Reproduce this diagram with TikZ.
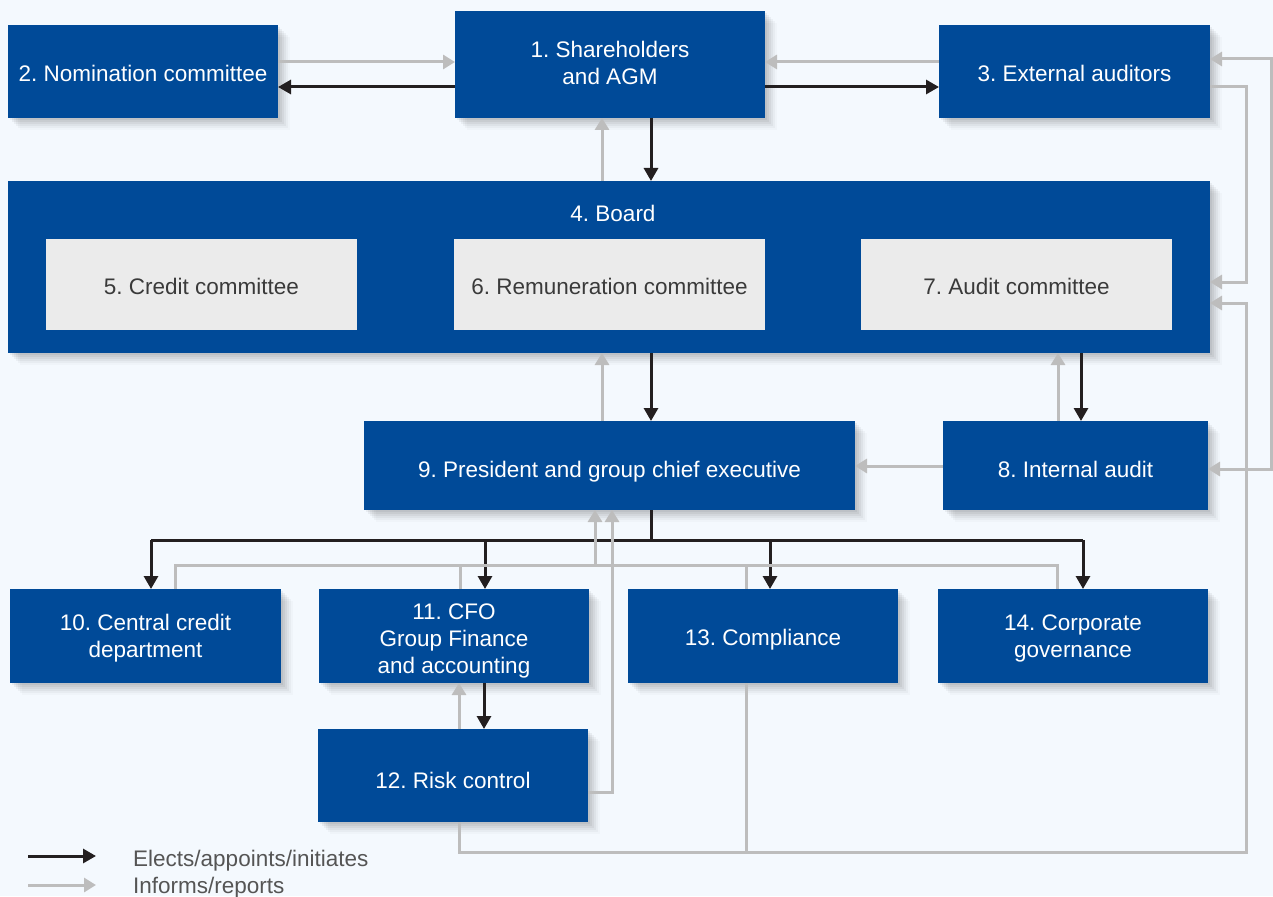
\documentclass[tikz,border=0pt]{standalone}
\usepackage{fontspec}
\setmainfont{Liberation Sans}
\usetikzlibrary{arrows.meta}
\definecolor{bg}{HTML}{F4F9FE}
\definecolor{boxblue}{HTML}{004A98}
\definecolor{boxgray}{HTML}{EBEBEB}
\definecolor{linegray}{HTML}{BDBDBD}
\definecolor{lineblack}{HTML}{231F20}
\definecolor{legtext}{HTML}{555555}
\definecolor{darktext}{HTML}{3A3A3A}
\tikzset{
  shadowed/.style={
    preaction={fill=black,opacity=0.05,transform canvas={shift={(2pt,-2pt)}}},
    preaction={fill=black,opacity=0.05,transform canvas={shift={(4pt,-4pt)}}},
    preaction={fill=black,opacity=0.045,transform canvas={shift={(6pt,-6pt)}}},
    preaction={fill=black,opacity=0.04,transform canvas={shift={(8pt,-8pt)}}},
    preaction={fill=black,opacity=0.03,transform canvas={shift={(10pt,-10pt)}}},
    preaction={fill=black,opacity=0.02,transform canvas={shift={(12pt,-12pt)}}}},
  bluebox/.style={shadowed,fill=boxblue,text=white,inner sep=0pt,outer sep=0pt,
    align=center,font=\fontsize{22.5}{27}\selectfont\frenchspacing},
  graybox/.style={fill=boxgray,text=darktext,inner sep=0pt,outer sep=0pt,
    align=center,font=\fontsize{22.5}{27}\selectfont\frenchspacing},
  one/.style={text height=#1,text depth=0pt},
  blk/.style={draw=lineblack,line width=3pt,-{Triangle[width=14pt,length=13pt]}},
  blkline/.style={draw=lineblack,line width=3pt},
  gry/.style={draw=linegray,line width=3pt,-{Triangle[width=14pt,length=12pt]}},
  gryline/.style={draw=linegray,line width=3pt},
  legend/.style={text=legtext,anchor=west,inner sep=0pt,text height=21pt,text depth=0pt,
    font=\fontsize{22.5}{27}\selectfont\frenchspacing}
}
\newcommand{\topstrut}[1]{\rule{0pt}{#1}}
\newcommand{\botstrut}[1]{\rule[-#1]{0pt}{#1}}
\begin{document}
\begin{tikzpicture}[x=1pt,y=-1pt]
\fill[bg] (0,0) rectangle (1273,896);
\useasboundingbox (0,0) rectangle (1273,896);

% boxes
\node[bluebox,one=21pt,minimum width=270,minimum height=93] (n2) at (143,71.5) {2. Nomination committee};
\node[bluebox,minimum width=310,minimum height=107] (n1) at (610,64.5) {1. Shareholders\\and AGM\botstrut{3pt}};
\node[bluebox,one=21pt,minimum width=271,minimum height=93] (n3) at (1074.5,71.5) {3. External auditors};
\node[bluebox,minimum width=1202,minimum height=172] (n4) at (609,267) {};
\node[text=white,inner sep=0pt,font=\fontsize{22.5}{27}\selectfont\frenchspacing] (n4t) at (613,213) {4. Board};
\node[graybox,one=19.5pt,minimum width=311,minimum height=91] (n5) at (201.5,284.5) {5. Credit committee};
\node[graybox,one=19.5pt,minimum width=311,minimum height=91] (n6) at (609.5,284.5) {6. Remuneration committee};
\node[graybox,one=19.5pt,minimum width=311,minimum height=91] (n7) at (1016.5,284.5) {7. Audit committee};
\node[bluebox,one=23pt,minimum width=491,minimum height=89] (n9) at (609.5,465.5) {9. President and group chief executive};
\node[bluebox,one=23pt,minimum width=265,minimum height=89] (n8) at (1075.5,465.5) {8. Internal audit};
\node[bluebox,minimum width=271,minimum height=94] (n10) at (145.5,636) {\topstrut{20.5pt}10. Central credit\\department};
\node[bluebox,minimum width=270,minimum height=94] (n11) at (454,636) {\topstrut{26.5pt}11. CFO\\Group Finance\\and accounting};
\node[bluebox,one=19pt,minimum width=270,minimum height=94] (n13) at (763,636) {13. Compliance};
\node[bluebox,minimum width=270,minimum height=94] (n14) at (1073,636) {\topstrut{20.5pt}14. Corporate\\governance};
\node[bluebox,one=25pt,minimum width=270,minimum height=93] (n12) at (453,775.5) {12. Risk control};

% helper coordinates
\coordinate (busB) at (651,540);
\coordinate (busG) at (595,565);
\coordinate (botL) at (459,852);
\coordinate (botR) at (1246,852);

% black connectors
\draw[blk] (n1.west |- 0,87) -- (n2.east |- 0,87);
\draw[blk] (n1.east |- 0,87) -- (n3.west |- 0,87);
\draw[blk] (n1.south -| 651,0) -- (n4.north -| 651,0);
\draw[blk] (n4.south -| 651,0) -- (n9.north -| 651,0);
\draw[blk] (n4.south -| 1081,0) -- (n8.north -| 1081,0);
\draw[blkline] (n9.south -| 651,0) -- (busB);
\draw[blkline] (151,540) -- (1083,540);
\draw[blk] (busB -| 151,0) -- (n10.north -| 151,0);
\draw[blk] (busB -| 485,0) -- (n11.north -| 485,0);
\draw[blk] (busB -| 770,0) -- (n13.north -| 770,0);
\draw[blk] (busB -| 1083,0) -- (n14.north -| 1083,0);
\draw[blk] (n11.south -| 484,0) -- (n12.north -| 484,0);

% gray connectors
\draw[gry] (n2.east |- 0,62) -- (n1.west |- 0,62);
\draw[gry] (n3.west |- 0,62) -- (n1.east |- 0,62);
\draw[gry] (n4.north -| 602,0) -- (n1.south -| 602,0);
\draw[gry] (n9.north -| 602,0) -- (n4.south -| 602,0);
\draw[gry] (n8.north -| 1058,0) -- (n4.south -| 1058,0);
\draw[gry] (n8.west |- 0,466) -- (n9.east |- 0,466);
\draw[gryline] (n10.north -| 175,0) -- (busG -| 175,0) -- (busG -| 1057,0) -- (n14.north -| 1057,0);
\draw[gryline] (n11.north -| 460,0) -- (busG -| 460,0);
\draw[gryline] (n13.north -| 746,0) -- (busG -| 746,0);
\draw[gry] (busG) -- (n9.south -| 595,0);
\draw[gry] (n12.east |- 0,792) -| (n9.south -| 612,0);
\draw[gry] (n12.north -| 459,0) -- (n11.south -| 459,0);
\draw[gry] (n12.south -| 459,0) -- (botL) -- (botR) -- (1246,303) -- (n4.east |- 0,303);
\draw[gryline] (n13.south -| 746,0) -- (botL -| 746,0);
\draw[gry] (n3.east |- 0,87) -- (1246,87) -- (1246,282) -- (n4.east |- 0,282);
\draw[gry,{Triangle[width=14pt,length=12pt]}-{Triangle[width=14pt,length=12pt]}] (n3.east |- 0,59) -- (1271,59) -- (1271,469) -- (n8.east |- 0,469);

% legend
\coordinate (la1) at (28,856);
\coordinate (la2) at (96,856);
\coordinate (lb1) at (28,885);
\coordinate (lb2) at (96,885);
\draw[blk] (la1) -- (la2);
\draw[gry] (lb1) -- (lb2);
\node[legend] (l1) at (133,856) {Elects/appoints/initiates};
\node[legend] (l2) at (133,883) {Informs/reports};
\end{tikzpicture}
\end{document}
